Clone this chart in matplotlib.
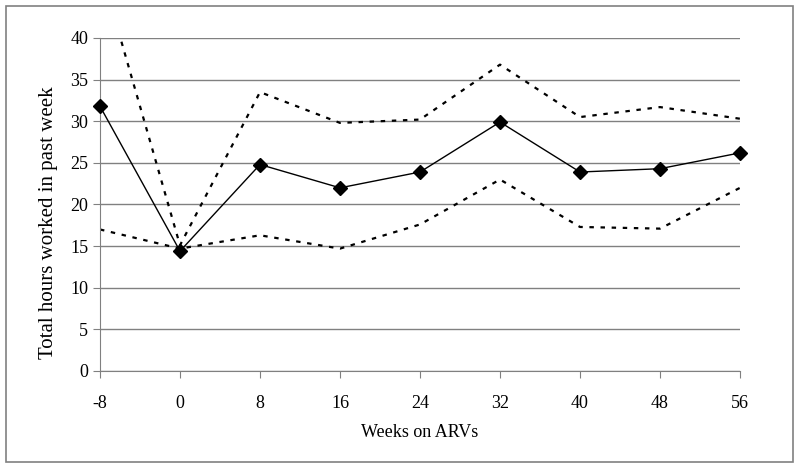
import matplotlib.pyplot as plt
from matplotlib.patches import Rectangle

weeks = [-8, 0, 8, 16, 24, 32, 40, 48, 56]
mean_hours = [31.8, 14.4, 24.8, 22.0, 23.9, 29.9, 23.9, 24.3, 26.2]
upper_ci = [48.5, 15.1, 33.5, 29.8, 30.2, 36.8, 30.5, 31.7, 30.3]
lower_ci = [17.0, 14.7, 16.3, 14.7, 17.6, 23.0, 17.3, 17.1, 22.0]

plt.rcParams['font.family'] = ['Liberation Serif', 'DejaVu Serif']
plt.rcParams['axes.unicode_minus'] = False

fig = plt.figure(figsize=(8, 4.69), dpi=100)
ax = fig.add_axes([0.125, 0.209, 0.8, 0.71])

ax.plot(weeks, upper_ci, color='black', lw=1.6, dashes=(2, 3))
ax.plot(weeks, lower_ci, color='black', lw=1.6, dashes=(2, 3))
ax.plot(weeks, mean_hours, color='black', lw=1, marker='D', ms=7,
        clip_on=False, zorder=5)

ax.set_xlim(-8, 56)
ax.set_ylim(0, 40)
ax.set_xticks(weeks)
ax.set_yticks(range(0, 41, 5))
ax.yaxis.grid(True, color='#808080', lw=1)
ax.set_axisbelow(True)
for s in ['top', 'right']:
    ax.spines[s].set_visible(False)
for s in ['left', 'bottom']:
    ax.spines[s].set_color('#808080')
ax.tick_params(colors='#808080', labelcolor='black', labelsize=13, length=5)
ax.tick_params(axis='x', pad=12)
ax.set_xlabel('Weeks on ARVs', fontsize=13, labelpad=9)
ax.set_ylabel('Total hours worked in past week', fontsize=15)
ax.yaxis.set_label_coords(-0.066, 0.444)

fig.patches.append(Rectangle((6 / 800, 7 / 469), 787 / 800, 456 / 469,
                             transform=fig.transFigure, fill=False,
                             edgecolor='#808080', lw=1.2))

fig.savefig('out.png')
